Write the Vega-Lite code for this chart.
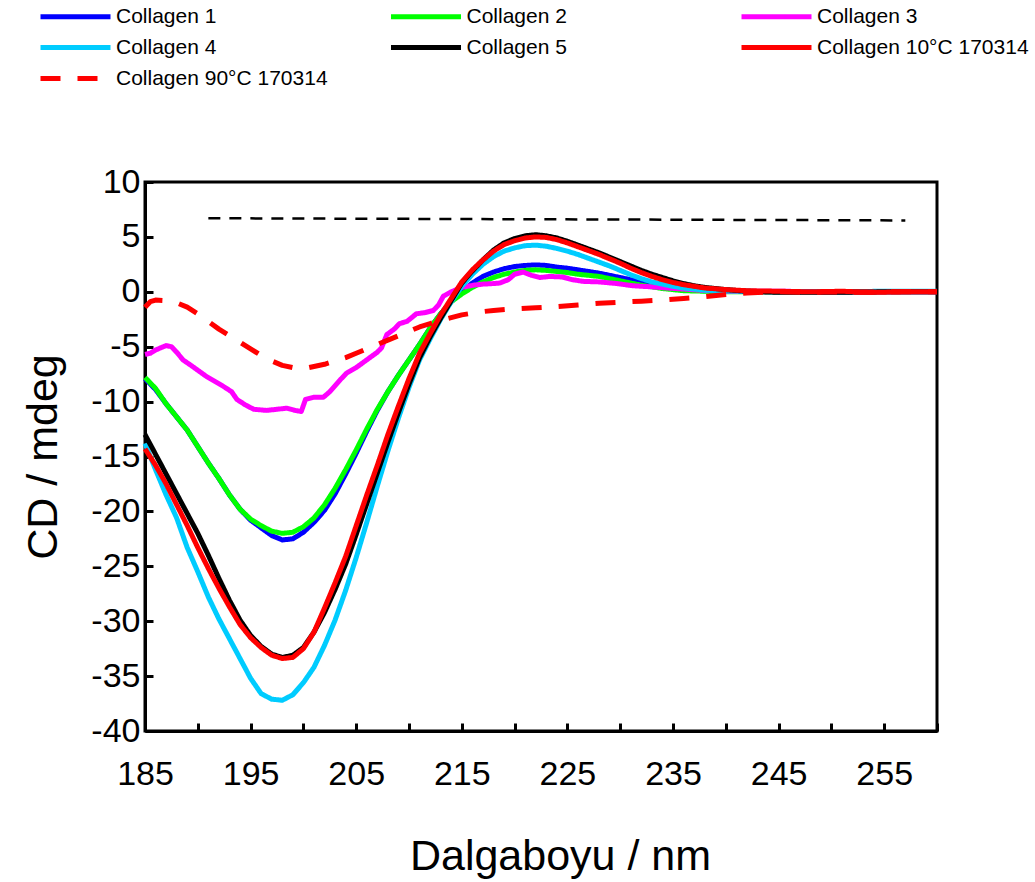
{
  "$schema": "https://vega.github.io/schema/vega-lite/v6.json",
  "autosize": "none",
  "width": 792,
  "height": 549,
  "padding": {"left": 145, "top": 182, "right": 98, "bottom": 151},
  "background": "white",
  "config": {
    "font": "Liberation Sans",
    "view": {"stroke": "black", "strokeWidth": 3},
    "axis": {
      "grid": false,
      "domainColor": "black",
      "domainWidth": 3,
      "tickColor": "black",
      "tickWidth": 3,
      "tickSize": -8,
      "labelFlush": false,
      "labelOverlap": false,
      "labelColor": "black",
      "labelFont": "Liberation Sans",
      "labelFontSize": 34,
      "titleFont": "Liberation Sans",
      "titleFontSize": 43,
      "titleFontWeight": "normal",
      "titleColor": "black"
    },
    "legend": {
      "labelFont": "Liberation Sans",
      "labelFontSize": 21,
      "labelColor": "black"
    }
  },
  "layer": [
    {
      "data": {"values": [{"x": 191, "y": 6.7}, {"x": 257, "y": 6.5}]},
      "mark": {"type": "line", "color": "black", "strokeWidth": 2.5, "strokeDash": [12, 9]},
      "encoding": {
        "x": {"field": "x", "type": "quantitative"},
        "y": {"field": "y", "type": "quantitative"}
      }
    },
    {
      "data": {"values": [
        {"s":"Collagen 1","x":185,"y":-7.9},{"s":"Collagen 1","x":186,"y":-8.9},{"s":"Collagen 1","x":187,"y":-10.2},{"s":"Collagen 1","x":188,"y":-11.4},{"s":"Collagen 1","x":189,"y":-12.6},{"s":"Collagen 1","x":190,"y":-14.1},{"s":"Collagen 1","x":191,"y":-15.6},{"s":"Collagen 1","x":192,"y":-17.0},{"s":"Collagen 1","x":193,"y":-18.5},{"s":"Collagen 1","x":194,"y":-19.8},{"s":"Collagen 1","x":195,"y":-20.8},{"s":"Collagen 1","x":196,"y":-21.5},{"s":"Collagen 1","x":197,"y":-22.2},{"s":"Collagen 1","x":198,"y":-22.6},{"s":"Collagen 1","x":199,"y":-22.5},{"s":"Collagen 1","x":200,"y":-21.9},{"s":"Collagen 1","x":201,"y":-21.0},{"s":"Collagen 1","x":202,"y":-19.9},{"s":"Collagen 1","x":203,"y":-18.4},{"s":"Collagen 1","x":204,"y":-16.6},{"s":"Collagen 1","x":205,"y":-14.7},{"s":"Collagen 1","x":206,"y":-12.7},{"s":"Collagen 1","x":207,"y":-10.8},{"s":"Collagen 1","x":208,"y":-9.1},{"s":"Collagen 1","x":209,"y":-7.6},{"s":"Collagen 1","x":210,"y":-6.2},{"s":"Collagen 1","x":211,"y":-4.8},{"s":"Collagen 1","x":212,"y":-3.3},{"s":"Collagen 1","x":213,"y":-2.0},{"s":"Collagen 1","x":214,"y":-0.9},{"s":"Collagen 1","x":215,"y":0.0},{"s":"Collagen 1","x":216,"y":0.8},{"s":"Collagen 1","x":217,"y":1.4},{"s":"Collagen 1","x":218,"y":1.8},{"s":"Collagen 1","x":219,"y":2.1},{"s":"Collagen 1","x":220,"y":2.3},{"s":"Collagen 1","x":221,"y":2.4},{"s":"Collagen 1","x":222,"y":2.45},{"s":"Collagen 1","x":223,"y":2.4},{"s":"Collagen 1","x":224,"y":2.25},{"s":"Collagen 1","x":225,"y":2.15},{"s":"Collagen 1","x":226,"y":2.0},{"s":"Collagen 1","x":227,"y":1.85},{"s":"Collagen 1","x":228,"y":1.7},{"s":"Collagen 1","x":229,"y":1.5},{"s":"Collagen 1","x":230,"y":1.3},{"s":"Collagen 1","x":231,"y":1.1},{"s":"Collagen 1","x":232,"y":0.85},{"s":"Collagen 1","x":233,"y":0.65},{"s":"Collagen 1","x":234,"y":0.5},{"s":"Collagen 1","x":235,"y":0.35},{"s":"Collagen 1","x":236,"y":0.25},{"s":"Collagen 1","x":237,"y":0.15},{"s":"Collagen 1","x":238,"y":0.1},{"s":"Collagen 1","x":240,"y":0.05},{"s":"Collagen 1","x":245,"y":0.0},{"s":"Collagen 1","x":250,"y":0.0},{"s":"Collagen 1","x":255,"y":0.0},{"s":"Collagen 1","x":260,"y":0.0},

        {"s":"Collagen 2","x":185,"y":-7.8},{"s":"Collagen 2","x":186,"y":-8.8},{"s":"Collagen 2","x":187,"y":-10.2},{"s":"Collagen 2","x":188,"y":-11.4},{"s":"Collagen 2","x":189,"y":-12.6},{"s":"Collagen 2","x":190,"y":-14.1},{"s":"Collagen 2","x":191,"y":-15.6},{"s":"Collagen 2","x":192,"y":-17.0},{"s":"Collagen 2","x":193,"y":-18.5},{"s":"Collagen 2","x":194,"y":-19.8},{"s":"Collagen 2","x":195,"y":-20.7},{"s":"Collagen 2","x":196,"y":-21.3},{"s":"Collagen 2","x":197,"y":-21.8},{"s":"Collagen 2","x":198,"y":-22.0},{"s":"Collagen 2","x":199,"y":-21.9},{"s":"Collagen 2","x":200,"y":-21.4},{"s":"Collagen 2","x":201,"y":-20.6},{"s":"Collagen 2","x":202,"y":-19.4},{"s":"Collagen 2","x":203,"y":-17.9},{"s":"Collagen 2","x":204,"y":-16.2},{"s":"Collagen 2","x":205,"y":-14.4},{"s":"Collagen 2","x":206,"y":-12.5},{"s":"Collagen 2","x":207,"y":-10.7},{"s":"Collagen 2","x":208,"y":-9.1},{"s":"Collagen 2","x":209,"y":-7.6},{"s":"Collagen 2","x":210,"y":-6.2},{"s":"Collagen 2","x":211,"y":-4.8},{"s":"Collagen 2","x":212,"y":-3.3},{"s":"Collagen 2","x":213,"y":-2.0},{"s":"Collagen 2","x":214,"y":-0.9},{"s":"Collagen 2","x":215,"y":-0.2},{"s":"Collagen 2","x":216,"y":0.4},{"s":"Collagen 2","x":217,"y":0.9},{"s":"Collagen 2","x":218,"y":1.3},{"s":"Collagen 2","x":219,"y":1.6},{"s":"Collagen 2","x":220,"y":1.8},{"s":"Collagen 2","x":221,"y":1.95},{"s":"Collagen 2","x":222,"y":2.0},{"s":"Collagen 2","x":223,"y":1.95},{"s":"Collagen 2","x":224,"y":1.85},{"s":"Collagen 2","x":225,"y":1.75},{"s":"Collagen 2","x":226,"y":1.6},{"s":"Collagen 2","x":227,"y":1.5},{"s":"Collagen 2","x":228,"y":1.4},{"s":"Collagen 2","x":229,"y":1.2},{"s":"Collagen 2","x":230,"y":1.0},{"s":"Collagen 2","x":231,"y":0.8},{"s":"Collagen 2","x":232,"y":0.6},{"s":"Collagen 2","x":233,"y":0.45},{"s":"Collagen 2","x":234,"y":0.3},{"s":"Collagen 2","x":235,"y":0.2},{"s":"Collagen 2","x":236,"y":0.1},{"s":"Collagen 2","x":238,"y":0.05},{"s":"Collagen 2","x":240,"y":0.0},{"s":"Collagen 2","x":245,"y":0.0},{"s":"Collagen 2","x":250,"y":0.0},{"s":"Collagen 2","x":255,"y":0.0},{"s":"Collagen 2","x":260,"y":0.0},

        {"s":"Collagen 3","x":185,"y":-5.7},{"s":"Collagen 3","x":185.5,"y":-5.6},{"s":"Collagen 3","x":186,"y":-5.3},{"s":"Collagen 3","x":187,"y":-4.9},{"s":"Collagen 3","x":187.5,"y":-5.0},{"s":"Collagen 3","x":188,"y":-5.5},{"s":"Collagen 3","x":188.6,"y":-6.2},{"s":"Collagen 3","x":189.5,"y":-6.8},{"s":"Collagen 3","x":190.8,"y":-7.7},{"s":"Collagen 3","x":192.4,"y":-8.6},{"s":"Collagen 3","x":193.2,"y":-9.1},{"s":"Collagen 3","x":193.7,"y":-9.8},{"s":"Collagen 3","x":194.5,"y":-10.3},{"s":"Collagen 3","x":195.3,"y":-10.7},{"s":"Collagen 3","x":196.5,"y":-10.8},{"s":"Collagen 3","x":197.5,"y":-10.7},{"s":"Collagen 3","x":198.4,"y":-10.6},{"s":"Collagen 3","x":199.2,"y":-10.8},{"s":"Collagen 3","x":199.8,"y":-10.9},{"s":"Collagen 3","x":200.2,"y":-9.8},{"s":"Collagen 3","x":201,"y":-9.6},{"s":"Collagen 3","x":201.9,"y":-9.6},{"s":"Collagen 3","x":202.5,"y":-9.1},{"s":"Collagen 3","x":203.5,"y":-8.0},{"s":"Collagen 3","x":204.1,"y":-7.4},{"s":"Collagen 3","x":205,"y":-6.9},{"s":"Collagen 3","x":206,"y":-6.2},{"s":"Collagen 3","x":207,"y":-5.5},{"s":"Collagen 3","x":207.4,"y":-5.1},{"s":"Collagen 3","x":207.9,"y":-3.9},{"s":"Collagen 3","x":208.6,"y":-3.4},{"s":"Collagen 3","x":209.1,"y":-2.9},{"s":"Collagen 3","x":209.8,"y":-2.7},{"s":"Collagen 3","x":210.7,"y":-2.0},{"s":"Collagen 3","x":211.5,"y":-1.9},{"s":"Collagen 3","x":212.3,"y":-1.7},{"s":"Collagen 3","x":212.8,"y":-1.2},{"s":"Collagen 3","x":213.25,"y":-0.4},{"s":"Collagen 3","x":214,"y":0.0},{"s":"Collagen 3","x":215,"y":0.4},{"s":"Collagen 3","x":216.1,"y":0.6},{"s":"Collagen 3","x":217,"y":0.7},{"s":"Collagen 3","x":218,"y":0.75},{"s":"Collagen 3","x":218.6,"y":0.8},{"s":"Collagen 3","x":219.4,"y":1.1},{"s":"Collagen 3","x":220,"y":1.6},{"s":"Collagen 3","x":220.8,"y":1.8},{"s":"Collagen 3","x":221.6,"y":1.5},{"s":"Collagen 3","x":222.4,"y":1.3},{"s":"Collagen 3","x":223.3,"y":1.4},{"s":"Collagen 3","x":224.5,"y":1.35},{"s":"Collagen 3","x":225.5,"y":1.1},{"s":"Collagen 3","x":226.5,"y":0.95},{"s":"Collagen 3","x":228,"y":0.9},{"s":"Collagen 3","x":229.7,"y":0.75},{"s":"Collagen 3","x":231.2,"y":0.55},{"s":"Collagen 3","x":233,"y":0.45},{"s":"Collagen 3","x":234.4,"y":0.35},{"s":"Collagen 3","x":236,"y":0.25},{"s":"Collagen 3","x":237.6,"y":0.15},{"s":"Collagen 3","x":240,"y":0.05},{"s":"Collagen 3","x":245,"y":0.05},{"s":"Collagen 3","x":250,"y":0.0},{"s":"Collagen 3","x":255,"y":0.0},{"s":"Collagen 3","x":260,"y":0.0},

        {"s":"Collagen 4","x":185,"y":-13.8},{"s":"Collagen 4","x":186,"y":-16.2},{"s":"Collagen 4","x":187,"y":-18.5},{"s":"Collagen 4","x":188,"y":-20.6},{"s":"Collagen 4","x":189,"y":-23.3},{"s":"Collagen 4","x":190,"y":-25.5},{"s":"Collagen 4","x":191,"y":-27.8},{"s":"Collagen 4","x":192,"y":-29.8},{"s":"Collagen 4","x":193,"y":-31.6},{"s":"Collagen 4","x":194,"y":-33.4},{"s":"Collagen 4","x":195,"y":-35.2},{"s":"Collagen 4","x":196,"y":-36.6},{"s":"Collagen 4","x":197,"y":-37.1},{"s":"Collagen 4","x":198,"y":-37.2},{"s":"Collagen 4","x":199,"y":-36.7},{"s":"Collagen 4","x":200,"y":-35.6},{"s":"Collagen 4","x":201,"y":-34.2},{"s":"Collagen 4","x":202,"y":-32.2},{"s":"Collagen 4","x":203,"y":-29.9},{"s":"Collagen 4","x":204,"y":-27.2},{"s":"Collagen 4","x":205,"y":-24.2},{"s":"Collagen 4","x":206,"y":-21.0},{"s":"Collagen 4","x":207,"y":-17.7},{"s":"Collagen 4","x":208,"y":-14.5},{"s":"Collagen 4","x":209,"y":-11.5},{"s":"Collagen 4","x":210,"y":-8.7},{"s":"Collagen 4","x":211,"y":-6.2},{"s":"Collagen 4","x":212,"y":-4.3},{"s":"Collagen 4","x":213,"y":-2.5},{"s":"Collagen 4","x":214,"y":-0.9},{"s":"Collagen 4","x":215,"y":0.5},{"s":"Collagen 4","x":216,"y":1.6},{"s":"Collagen 4","x":217,"y":2.5},{"s":"Collagen 4","x":218,"y":3.2},{"s":"Collagen 4","x":219,"y":3.7},{"s":"Collagen 4","x":220,"y":4.0},{"s":"Collagen 4","x":221,"y":4.2},{"s":"Collagen 4","x":222,"y":4.25},{"s":"Collagen 4","x":223,"y":4.15},{"s":"Collagen 4","x":224,"y":3.95},{"s":"Collagen 4","x":225,"y":3.7},{"s":"Collagen 4","x":226,"y":3.4},{"s":"Collagen 4","x":227,"y":3.05},{"s":"Collagen 4","x":228,"y":2.7},{"s":"Collagen 4","x":229,"y":2.35},{"s":"Collagen 4","x":230,"y":1.95},{"s":"Collagen 4","x":231,"y":1.55},{"s":"Collagen 4","x":232,"y":1.2},{"s":"Collagen 4","x":233,"y":0.9},{"s":"Collagen 4","x":234,"y":0.7},{"s":"Collagen 4","x":235,"y":0.5},{"s":"Collagen 4","x":236,"y":0.35},{"s":"Collagen 4","x":237,"y":0.25},{"s":"Collagen 4","x":238,"y":0.15},{"s":"Collagen 4","x":240,"y":0.08},{"s":"Collagen 4","x":245,"y":0.0},{"s":"Collagen 4","x":250,"y":0.0},{"s":"Collagen 4","x":255,"y":0.05},{"s":"Collagen 4","x":260,"y":0.05},

        {"s":"Collagen 5","x":185,"y":-13.0},{"s":"Collagen 5","x":186,"y":-14.8},{"s":"Collagen 5","x":187,"y":-16.6},{"s":"Collagen 5","x":188,"y":-18.4},{"s":"Collagen 5","x":189,"y":-20.2},{"s":"Collagen 5","x":190,"y":-22.0},{"s":"Collagen 5","x":191,"y":-24.0},{"s":"Collagen 5","x":192,"y":-26.1},{"s":"Collagen 5","x":193,"y":-28.1},{"s":"Collagen 5","x":194,"y":-29.9},{"s":"Collagen 5","x":195,"y":-31.3},{"s":"Collagen 5","x":196,"y":-32.3},{"s":"Collagen 5","x":197,"y":-33.0},{"s":"Collagen 5","x":198,"y":-33.3},{"s":"Collagen 5","x":199,"y":-33.1},{"s":"Collagen 5","x":200,"y":-32.4},{"s":"Collagen 5","x":201,"y":-31.0},{"s":"Collagen 5","x":202,"y":-29.2},{"s":"Collagen 5","x":203,"y":-27.1},{"s":"Collagen 5","x":204,"y":-24.8},{"s":"Collagen 5","x":205,"y":-22.1},{"s":"Collagen 5","x":206,"y":-19.3},{"s":"Collagen 5","x":207,"y":-16.5},{"s":"Collagen 5","x":208,"y":-13.7},{"s":"Collagen 5","x":209,"y":-11.0},{"s":"Collagen 5","x":210,"y":-8.4},{"s":"Collagen 5","x":211,"y":-6.0},{"s":"Collagen 5","x":212,"y":-4.1},{"s":"Collagen 5","x":213,"y":-2.4},{"s":"Collagen 5","x":214,"y":-0.8},{"s":"Collagen 5","x":215,"y":0.8},{"s":"Collagen 5","x":216,"y":1.9},{"s":"Collagen 5","x":217,"y":2.9},{"s":"Collagen 5","x":218,"y":3.8},{"s":"Collagen 5","x":219,"y":4.45},{"s":"Collagen 5","x":220,"y":4.85},{"s":"Collagen 5","x":221,"y":5.1},{"s":"Collagen 5","x":222,"y":5.2},{"s":"Collagen 5","x":223,"y":5.1},{"s":"Collagen 5","x":224,"y":4.9},{"s":"Collagen 5","x":225,"y":4.6},{"s":"Collagen 5","x":226,"y":4.25},{"s":"Collagen 5","x":227,"y":3.9},{"s":"Collagen 5","x":228,"y":3.55},{"s":"Collagen 5","x":229,"y":3.15},{"s":"Collagen 5","x":230,"y":2.75},{"s":"Collagen 5","x":231,"y":2.35},{"s":"Collagen 5","x":232,"y":1.95},{"s":"Collagen 5","x":233,"y":1.6},{"s":"Collagen 5","x":234,"y":1.3},{"s":"Collagen 5","x":235,"y":1.0},{"s":"Collagen 5","x":236,"y":0.75},{"s":"Collagen 5","x":237,"y":0.55},{"s":"Collagen 5","x":238,"y":0.4},{"s":"Collagen 5","x":240,"y":0.2},{"s":"Collagen 5","x":242,"y":0.05},{"s":"Collagen 5","x":245,"y":-0.05},{"s":"Collagen 5","x":250,"y":-0.05},{"s":"Collagen 5","x":255,"y":0.0},{"s":"Collagen 5","x":260,"y":0.0},

        {"s":"Collagen 10°C 170314","x":185,"y":-14.3},{"s":"Collagen 10°C 170314","x":186,"y":-15.8},{"s":"Collagen 10°C 170314","x":187,"y":-17.5},{"s":"Collagen 10°C 170314","x":188,"y":-19.4},{"s":"Collagen 10°C 170314","x":189,"y":-21.3},{"s":"Collagen 10°C 170314","x":190,"y":-23.3},{"s":"Collagen 10°C 170314","x":191,"y":-25.2},{"s":"Collagen 10°C 170314","x":192,"y":-27.0},{"s":"Collagen 10°C 170314","x":193,"y":-28.7},{"s":"Collagen 10°C 170314","x":194,"y":-30.3},{"s":"Collagen 10°C 170314","x":195,"y":-31.5},{"s":"Collagen 10°C 170314","x":196,"y":-32.4},{"s":"Collagen 10°C 170314","x":197,"y":-33.1},{"s":"Collagen 10°C 170314","x":198,"y":-33.4},{"s":"Collagen 10°C 170314","x":199,"y":-33.3},{"s":"Collagen 10°C 170314","x":200,"y":-32.5},{"s":"Collagen 10°C 170314","x":201,"y":-31.0},{"s":"Collagen 10°C 170314","x":202,"y":-28.8},{"s":"Collagen 10°C 170314","x":203,"y":-26.5},{"s":"Collagen 10°C 170314","x":204,"y":-24.1},{"s":"Collagen 10°C 170314","x":205,"y":-21.3},{"s":"Collagen 10°C 170314","x":206,"y":-18.5},{"s":"Collagen 10°C 170314","x":207,"y":-15.8},{"s":"Collagen 10°C 170314","x":208,"y":-13.0},{"s":"Collagen 10°C 170314","x":209,"y":-10.4},{"s":"Collagen 10°C 170314","x":210,"y":-7.9},{"s":"Collagen 10°C 170314","x":211,"y":-5.6},{"s":"Collagen 10°C 170314","x":212,"y":-3.8},{"s":"Collagen 10°C 170314","x":213,"y":-2.1},{"s":"Collagen 10°C 170314","x":214,"y":-0.6},{"s":"Collagen 10°C 170314","x":215,"y":0.9},{"s":"Collagen 10°C 170314","x":216,"y":2.0},{"s":"Collagen 10°C 170314","x":217,"y":2.9},{"s":"Collagen 10°C 170314","x":218,"y":3.7},{"s":"Collagen 10°C 170314","x":219,"y":4.3},{"s":"Collagen 10°C 170314","x":220,"y":4.65},{"s":"Collagen 10°C 170314","x":221,"y":4.9},{"s":"Collagen 10°C 170314","x":222,"y":5.0},{"s":"Collagen 10°C 170314","x":223,"y":4.95},{"s":"Collagen 10°C 170314","x":224,"y":4.75},{"s":"Collagen 10°C 170314","x":225,"y":4.45},{"s":"Collagen 10°C 170314","x":226,"y":4.1},{"s":"Collagen 10°C 170314","x":227,"y":3.75},{"s":"Collagen 10°C 170314","x":228,"y":3.4},{"s":"Collagen 10°C 170314","x":229,"y":3.0},{"s":"Collagen 10°C 170314","x":230,"y":2.6},{"s":"Collagen 10°C 170314","x":231,"y":2.15},{"s":"Collagen 10°C 170314","x":232,"y":1.75},{"s":"Collagen 10°C 170314","x":233,"y":1.4},{"s":"Collagen 10°C 170314","x":234,"y":1.1},{"s":"Collagen 10°C 170314","x":235,"y":0.85},{"s":"Collagen 10°C 170314","x":236,"y":0.65},{"s":"Collagen 10°C 170314","x":237,"y":0.5},{"s":"Collagen 10°C 170314","x":238,"y":0.35},{"s":"Collagen 10°C 170314","x":240,"y":0.2},{"s":"Collagen 10°C 170314","x":242,"y":0.1},{"s":"Collagen 10°C 170314","x":245,"y":0.05},{"s":"Collagen 10°C 170314","x":248,"y":0.0},{"s":"Collagen 10°C 170314","x":251,"y":0.05},{"s":"Collagen 10°C 170314","x":254,"y":-0.05},{"s":"Collagen 10°C 170314","x":257,"y":0.0},{"s":"Collagen 10°C 170314","x":260,"y":0.0},

        {"s":"Collagen 90°C 170314","x":185,"y":-1.4},{"s":"Collagen 90°C 170314","x":185.5,"y":-0.9},{"s":"Collagen 90°C 170314","x":186,"y":-0.75},{"s":"Collagen 90°C 170314","x":187,"y":-0.8},{"s":"Collagen 90°C 170314","x":188,"y":-1.0},{"s":"Collagen 90°C 170314","x":189,"y":-1.4},{"s":"Collagen 90°C 170314","x":190,"y":-2.0},{"s":"Collagen 90°C 170314","x":191,"y":-2.7},{"s":"Collagen 90°C 170314","x":192,"y":-3.4},{"s":"Collagen 90°C 170314","x":193,"y":-4.0},{"s":"Collagen 90°C 170314","x":194,"y":-4.6},{"s":"Collagen 90°C 170314","x":195,"y":-5.2},{"s":"Collagen 90°C 170314","x":196,"y":-5.8},{"s":"Collagen 90°C 170314","x":197,"y":-6.3},{"s":"Collagen 90°C 170314","x":198,"y":-6.7},{"s":"Collagen 90°C 170314","x":199,"y":-6.9},{"s":"Collagen 90°C 170314","x":200,"y":-7.0},{"s":"Collagen 90°C 170314","x":201,"y":-6.8},{"s":"Collagen 90°C 170314","x":202,"y":-6.6},{"s":"Collagen 90°C 170314","x":203,"y":-6.3},{"s":"Collagen 90°C 170314","x":204,"y":-6.0},{"s":"Collagen 90°C 170314","x":205,"y":-5.6},{"s":"Collagen 90°C 170314","x":206,"y":-5.2},{"s":"Collagen 90°C 170314","x":207,"y":-4.8},{"s":"Collagen 90°C 170314","x":208,"y":-4.4},{"s":"Collagen 90°C 170314","x":209,"y":-4.0},{"s":"Collagen 90°C 170314","x":210,"y":-3.6},{"s":"Collagen 90°C 170314","x":211,"y":-3.2},{"s":"Collagen 90°C 170314","x":212,"y":-2.9},{"s":"Collagen 90°C 170314","x":213,"y":-2.6},{"s":"Collagen 90°C 170314","x":214,"y":-2.35},{"s":"Collagen 90°C 170314","x":215,"y":-2.1},{"s":"Collagen 90°C 170314","x":216,"y":-1.95},{"s":"Collagen 90°C 170314","x":217,"y":-1.8},{"s":"Collagen 90°C 170314","x":218,"y":-1.7},{"s":"Collagen 90°C 170314","x":220,"y":-1.55},{"s":"Collagen 90°C 170314","x":222,"y":-1.45},{"s":"Collagen 90°C 170314","x":224,"y":-1.35},{"s":"Collagen 90°C 170314","x":226,"y":-1.2},{"s":"Collagen 90°C 170314","x":228,"y":-1.05},{"s":"Collagen 90°C 170314","x":230,"y":-0.95},{"s":"Collagen 90°C 170314","x":232,"y":-0.85},{"s":"Collagen 90°C 170314","x":234,"y":-0.75},{"s":"Collagen 90°C 170314","x":236,"y":-0.6},{"s":"Collagen 90°C 170314","x":238,"y":-0.45},{"s":"Collagen 90°C 170314","x":240,"y":-0.25},{"s":"Collagen 90°C 170314","x":242,"y":-0.1},{"s":"Collagen 90°C 170314","x":245,"y":0.0},{"s":"Collagen 90°C 170314","x":248,"y":-0.05},{"s":"Collagen 90°C 170314","x":250,"y":0.0},{"s":"Collagen 90°C 170314","x":253,"y":-0.05},{"s":"Collagen 90°C 170314","x":255,"y":0.0},{"s":"Collagen 90°C 170314","x":260,"y":0.0}
      ]},
      "mark": {"type": "line", "strokeWidth": 5, "strokeJoin": "round", "strokeCap": "butt"},
      "encoding": {
        "x": {
          "field": "x", "type": "quantitative",
          "scale": {"domain": [185, 260], "nice": false, "zero": false},
          "axis": {
            "title": "Dalgaboyu / nm",
            "values": [185,190,195,200,205,210,215,220,225,230,235,240,245,250,255,260],
            "labelExpr": "(datum.value - 185) % 10 == 0 && datum.value < 260 ? '' + datum.value : ''",
            "labelPadding": 34,
            "titlePadding": 44,
            "titleX": 415
          }
        },
        "y": {
          "field": "y", "type": "quantitative",
          "scale": {"domain": [-40, 10], "nice": false, "zero": false},
          "axis": {
            "title": "CD / mdeg",
            "values": [-40,-35,-30,-25,-20,-15,-10,-5,0,5,10],
            "labelExpr": "'' + datum.value",
            "labelPadding": 13,
            "titlePadding": 25
          }
        },
        "color": {
          "field": "s", "type": "nominal",
          "scale": {
            "domain": ["Collagen 1","Collagen 2","Collagen 3","Collagen 4","Collagen 5","Collagen 10°C 170314","Collagen 90°C 170314"],
            "range": ["#0000FF","#00FF00","#FF00FF","#00CCFF","#000000","#FF0000","#FF0000"]
          },
          "legend": {
            "title": null,
            "orient": "none",
            "direction": "horizontal",
            "legendX": -80,
            "legendY": -176,
            "columns": 3,
            "gridAlign": "all",
            "columnPadding": 52.5,
            "rowPadding": 9,
            "symbolType": "M-7,0H7",
            "symbolSize": 100,
            "symbolStrokeWidth": 5,
            "labelOffset": 30,
            "labelLimit": 400
          }
        },
        "strokeDash": {
          "field": "s", "type": "nominal",
          "scale": {
            "domain": ["Collagen 1","Collagen 2","Collagen 3","Collagen 4","Collagen 5","Collagen 10°C 170314","Collagen 90°C 170314"],
            "range": [[1,0],[1,0],[1,0],[1,0],[1,0],[1,0],[20,17]]
          },
          "legend": {
            "title": null,
            "orient": "none",
            "direction": "horizontal",
            "legendX": -80,
            "legendY": -176,
            "columns": 3,
            "gridAlign": "all",
            "columnPadding": 52.5,
            "rowPadding": 9,
            "symbolType": "M-7,0H7",
            "symbolSize": 100,
            "symbolStrokeWidth": 5,
            "labelOffset": 30,
            "labelLimit": 400
          }
        }
      }
    }
  ]
}
